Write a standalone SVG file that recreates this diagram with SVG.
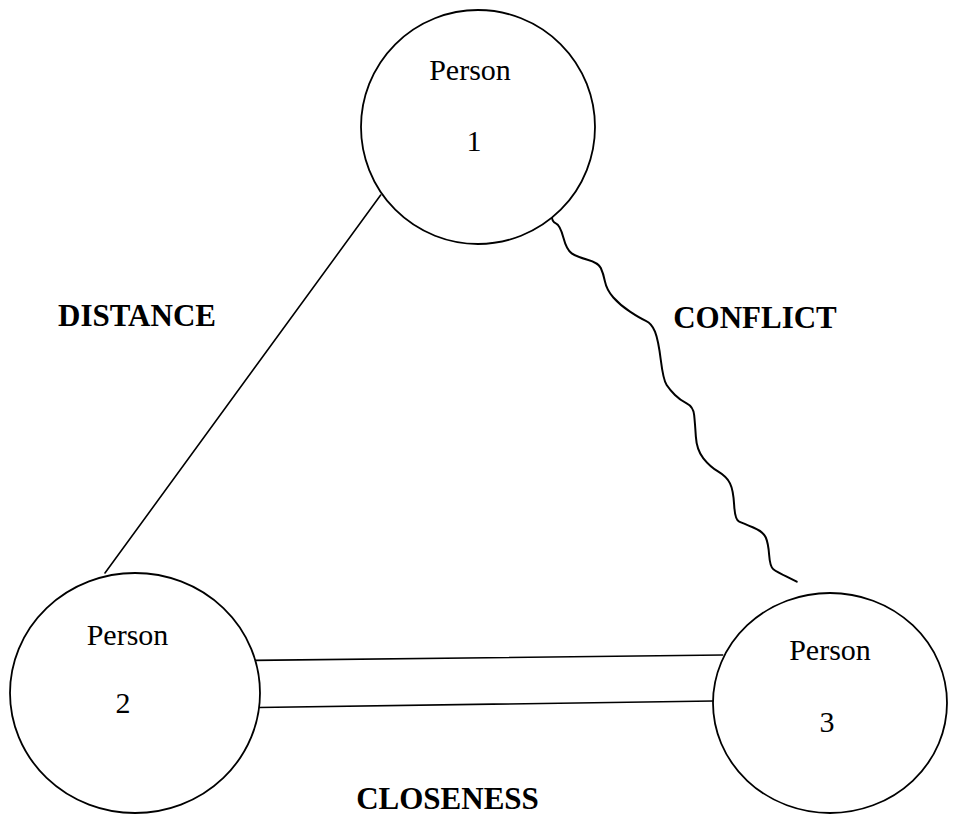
<svg xmlns="http://www.w3.org/2000/svg" width="954" height="816" viewBox="0 0 954 816">
<style>
.node{fill:#fff;stroke:#000;stroke-width:1.8}
.name{font-family:"Liberation Serif","Times New Roman",serif;font-size:30px;fill:#000;text-anchor:middle}
.lab{font-family:"Liberation Serif","Times New Roman",serif;font-size:31px;font-weight:bold;fill:#000;text-anchor:middle}
.conn{fill:none;stroke:#000;stroke-width:1.6;stroke-linejoin:round;stroke-linecap:round}
</style>
<rect width="954" height="816" fill="#fff"/>
<g id="connectors">
<line class="conn" x1="380.7" y1="195" x2="105" y2="573"/>
<path class="conn" style="stroke-width:2" d="M551.7,206.7 L551.7,215 Q551.7,221.7 555.85,223.35 Q560,225 563.35,237.5 Q566.7,250 571.7,253.35 Q576.7,256.7 587.5,259.7 Q598.3,262.7 600.8,268 Q603.3,273.3 605,281.65 Q606.7,290 613.35,297.5 Q620,305 630,311.65 Q640,318.3 645.85,320.8 Q651.7,323.3 655,331.65 Q658.3,340 660.8,360 Q663.3,380 666.65,385 Q670,390 675,395 Q680,400 686.65,403.35 Q693.3,406.7 694.15,415 Q695,423.3 695.85,436.65 Q696.7,450 703.35,458.35 Q710,466.7 718.35,471.7 Q726.7,476.7 730,483.35 Q733.3,490 734.15,505 Q735,520 739.15,521.65 Q743.3,523.3 753.3,527.5 Q763.3,531.7 765.8,537.5 Q768.3,543.3 769.15,555 Q770,566.7 773.35,569.2 Q776.7,571.7 786.7,576.7 L796.7,581.7"/>
<line class="conn" x1="246.7" y1="660.5" x2="722.7" y2="655"/>
<line class="conn" x1="258.3" y1="707.5" x2="713.3" y2="701"/>
</g>
<g id="person1">
<circle class="node" cx="478" cy="127" r="117" fill="none"/>
<text class="name" x="470" y="80">Person</text>
<text class="name" x="474" y="150.5">1</text>
</g>
<g id="person2">
<ellipse class="node" cx="135" cy="693" rx="125" ry="120" fill="none"/>
<text class="name" x="127.5" y="645">Person</text>
<text class="name" x="123" y="713">2</text>
</g>
<g id="person3">
<ellipse class="node" cx="830" cy="703" rx="117" ry="110" fill="none"/>
<text class="name" x="830" y="660">Person</text>
<text class="name" x="827" y="731.5">3</text>
</g>
<g id="labels">
<text class="lab" x="137" y="326">DISTANCE</text>
<text class="lab" x="755" y="328">CONFLICT</text>
<text class="lab" x="447.5" y="809">CLOSENESS</text>
</g>
</svg>
